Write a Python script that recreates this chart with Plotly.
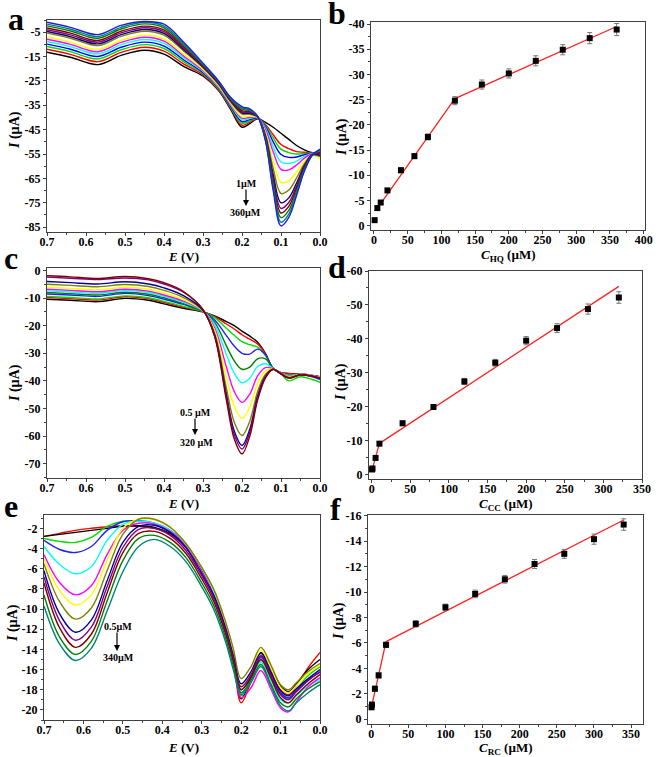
import plotly.graph_objects as go

W, H = 660, 757

# ---------------- DATA ----------------
# Panel a : DPV of HQ (E in V, I in uA)
a_E = [0.70, 0.64, 0.57, 0.51, 0.45, 0.40, 0.35, 0.30, 0.26, 0.23, 0.20, 0.18, 0.16, 0.14, 0.12, 0.10, 0.08, 0.06, 0.04, 0.02, 0.00]
a_black = [-13.2, -15.3, -18.3, -14.5, -12.4, -14.0, -19.0, -23.0, -29.0, -36.5, -44.0, -42.5, -40.5, -42.0, -44.0, -46.5, -49.0, -51.5, -53.3, -54.5, -55.0]
a_red = [-12.0, -14.1, -17.1, -13.3, -11.2, -12.8, -18.0, -22.5, -28.6, -36.0, -43.2, -41.9, -40.4, -42.9, -47.1, -51.1, -52.8, -54.0, -54.3, -54.6, -54.8]
a_green = [-10.9, -13.0, -16.0, -12.2, -10.1, -11.7, -17.1, -22.0, -28.2, -35.6, -42.4, -41.4, -40.3, -43.3, -48.4, -53.0, -54.4, -55.0, -54.8, -54.7, -54.7]
a_blue = [-9.9, -12.0, -15.0, -11.2, -9.1, -10.7, -16.3, -21.6, -27.9, -35.2, -41.7, -40.9, -40.2, -43.7, -50.0, -55.2, -56.4, -56.2, -55.3, -54.7, -54.8]
a_cyan = [-8.8, -10.9, -13.9, -10.1, -8.0, -9.6, -15.4, -21.1, -27.6, -34.7, -41.0, -40.3, -40.1, -44.3, -52.1, -58.3, -58.9, -57.9, -56.0, -54.8, -55.5]
a_magenta = [-7.9, -10.0, -13.0, -9.2, -7.1, -8.7, -14.7, -20.7, -27.3, -34.4, -40.3, -39.9, -40.0, -44.9, -54.1, -61.3, -61.5, -59.5, -56.7, -55.0, -56.0]
a_yellow = [-7.0, -9.1, -12.1, -8.3, -6.2, -7.8, -14.0, -20.3, -27.0, -34.0, -39.7, -39.5, -39.9, -46.0, -57.8, -66.6, -66.0, -62.4, -57.9, -55.5, -56.8]
a_dkyellow = [-5.4, -7.5, -10.5, -6.7, -4.6, -6.2, -12.7, -19.6, -26.4, -33.4, -38.6, -38.7, -39.8, -46.9, -60.9, -71.2, -69.8, -64.8, -59.0, -55.4, -56.0]
a_navy = [-4.7, -6.8, -9.8, -6.0, -3.9, -5.5, -12.1, -19.3, -26.2, -33.1, -38.1, -38.3, -39.7, -47.6, -63.5, -75.0, -73.0, -66.9, -59.8, -55.3, -55.5]
a_purple = [-4.0, -6.1, -9.1, -5.3, -3.2, -4.8, -11.6, -19.0, -26.0, -32.8, -37.7, -38.0, -39.7, -48.1, -65.1, -77.3, -74.9, -68.1, -60.3, -55.3, -54.8]
a_wine = [-3.3, -5.4, -8.4, -4.6, -2.5, -4.1, -11.0, -18.7, -25.7, -32.5, -37.2, -37.6, -39.6, -48.5, -66.4, -79.2, -76.5, -69.1, -60.8, -55.4, -54.2]
a_olive = [-2.4, -4.5, -7.5, -3.7, -1.6, -3.2, -10.3, -18.4, -25.4, -32.2, -36.6, -37.2, -39.6, -48.8, -67.7, -81.1, -78.1, -70.2, -61.2, -55.5, -53.7]
a_dkcyan = [-1.7, -3.8, -6.8, -3.0, -0.9, -2.5, -9.7, -18.1, -25.2, -31.9, -36.1, -36.9, -39.5, -49.2, -69.0, -83.0, -79.7, -71.2, -61.7, -55.5, -53.3]
a_royal = [-0.9, -3.0, -6.0, -2.2, -0.6, -1.7, -9.0, -17.7, -25.0, -31.6, -35.5, -36.5, -39.5, -49.5, -70.0, -84.5, -81.0, -72.0, -62.0, -55.5, -53.0]
a_series = [a_black, a_red, a_green, a_blue, a_cyan, a_magenta, a_yellow, a_dkyellow,
            a_navy, a_purple, a_wine, a_olive, a_dkcyan, a_royal]
a_colors = ["#000000", "#FF0000", "#00DD00", "#0000FF", "#00FFFF", "#FF00FF", "#FFFF00", "#808000",
            "#000080", "#800080", "#800000", "#008000", "#008080", "#2020E0"]

# Panel b : calibration HQ
b_conc = [1, 5, 10, 20, 40, 60, 80, 120, 160, 200, 240, 280, 320, 360]
b_curr = [-1.1, -3.5, -4.6, -7.0, -11.0, -13.8, -17.6, -24.8, -28.0, -30.2, -32.7, -34.9, -37.2, -38.9]
b_err = [0.3, 0.4, 0.4, 0.4, 0.5, 0.5, 0.6, 0.8, 0.9, 0.9, 1.0, 1.0, 1.1, 1.2]
b_fit = [(5, 120, -2.51, -0.1891), (120, 360, -18.05, -0.0596)]  # (x0, x1, intercept, slope)

# Panel c : DPV of CC
c_E = [0.70, 0.64, 0.57, 0.50, 0.44, 0.40, 0.35, 0.30, 0.27, 0.24, 0.22, 0.20, 0.18, 0.16, 0.14, 0.12, 0.10, 0.08, 0.05, 0.02, 0.00]
c_black = [-10.4, -10.8, -11.3, -10.1, -10.8, -12.1, -13.7, -15.0, -16.5, -18.5, -20.0, -22.0, -23.8, -26.0, -30.0, -35.5, -37.0, -37.3, -37.5, -38.0, -38.5]
c_red = [-9.8, -10.2, -10.7, -9.5, -10.2, -11.6, -13.3, -14.9, -16.7, -19.4, -21.2, -23.3, -24.9, -26.6, -30.3, -35.5, -37.0, -37.4, -37.5, -38.0, -38.5]
c_green = [-9.4, -9.8, -10.3, -9.2, -9.9, -11.2, -13.0, -14.9, -17.1, -20.9, -23.5, -25.8, -26.9, -27.8, -30.8, -35.5, -37.5, -40.0, -38.5, -39.5, -40.5]
c_blue = [-8.5, -8.9, -9.4, -8.3, -9.1, -10.4, -12.3, -14.8, -17.9, -23.6, -27.4, -30.0, -30.3, -28.5, -30.5, -35.6, -37.1, -38.5, -37.8, -38.5, -39.5]
c_dkgreen = [-8.0, -8.4, -8.9, -7.9, -8.6, -9.9, -12.0, -14.8, -18.8, -27.3, -32.7, -35.8, -35.0, -32.0, -32.0, -35.6, -37.2, -37.8, -37.6, -38.1, -38.7]
c_cyan = [-7.4, -7.8, -8.3, -7.3, -8.0, -9.4, -11.5, -14.7, -19.7, -30.5, -37.2, -40.7, -39.0, -34.8, -33.8, -35.6, -37.2, -38.0, -37.6, -38.1, -38.7]
c_magenta = [-6.8, -7.2, -7.7, -6.8, -7.5, -8.9, -11.1, -14.6, -20.9, -35.0, -43.8, -47.8, -44.8, -38.2, -35.2, -35.7, -37.3, -38.3, -37.7, -38.2, -38.8]
c_yellow = [-6.1, -6.5, -7.0, -6.1, -6.8, -8.2, -10.6, -14.6, -21.8, -38.7, -49.1, -53.6, -49.5, -40.9, -36.4, -35.7, -37.4, -38.5, -37.7, -38.2, -38.8]
c_dkyellow = [-5.0, -5.4, -5.9, -5.1, -5.8, -7.2, -9.8, -14.5, -22.9, -42.7, -54.9, -59.8, -54.6, -43.9, -37.7, -35.8, -37.4, -38.7, -37.8, -38.3, -38.9]
c_navy = [-4.0, -4.4, -4.9, -4.1, -4.9, -6.3, -9.1, -14.4, -23.5, -45.0, -58.1, -63.4, -57.5, -45.5, -38.4, -35.8, -37.5, -38.9, -37.8, -38.3, -39.0]
c_purple = [-2.4, -2.8, -3.3, -2.7, -3.4, -4.9, -7.9, -14.2, -23.7, -45.9, -59.4, -64.7, -58.6, -46.2, -38.6, -35.8, -37.5, -39.0, -37.8, -38.3, -39.0]
c_wine = [-1.9, -2.3, -2.9, -2.2, -3.0, -4.4, -7.6, -14.2, -24.0, -47.0, -61.0, -66.5, -60.0, -47.0, -39.0, -35.8, -37.5, -39.0, -37.8, -38.3, -39.0]
c_series = [c_black, c_red, c_green, c_blue, c_dkgreen, c_cyan, c_magenta, c_yellow,
            c_dkyellow, c_navy, c_purple, c_wine]
c_colors = ["#000000", "#FF0000", "#00DD00", "#2020FF", "#008000", "#00FFFF", "#FF00FF", "#FFFF00",
            "#808000", "#0000A0", "#800080", "#800000"]

# Panel d : calibration CC
d_conc = [0.5, 1, 5, 10, 40, 80, 120, 160, 200, 240, 280, 320]
d_curr = [-1.6, -1.9, -5.0, -9.2, -15.2, -20.0, -27.5, -33.0, -39.5, -43.2, -48.8, -52.2]
d_err = [0.5, 0.5, 0.6, 0.6, 0.7, 0.7, 0.9, 1.0, 1.2, 1.3, 1.5, 1.7]
d_fit = [(0.5, 10, -1.09, -0.821), (10, 320, -7.8, -0.149)]

# Panel e : DPV of RC
e_E = [0.70, 0.66, 0.62, 0.58, 0.54, 0.50, 0.46, 0.42, 0.38, 0.34, 0.30, 0.27, 0.24, 0.22, 0.20, 0.175, 0.15, 0.125, 0.10, 0.08, 0.06, 0.03, 0.00]
e_red = [-2.8, -2.5, -2.2, -2.0, -1.85, -1.75, -1.8, -2.0, -2.6, -3.9, -6.1, -8.4, -11.8, -15.0, -19.3, -17.2, -14.7, -16.2, -18.0, -18.5, -17.6, -15.8, -14.3]
e_black = [-2.8, -2.6, -2.4, -2.2, -2.0, -1.8, -1.75, -1.9, -2.5, -3.8, -6.1, -8.3, -11.7, -14.7, -18.9, -16.8, -14.3, -15.8, -17.6, -18.2, -17.4, -16.0, -15.0]
e_green = [-3.0, -3.3, -3.4, -2.9, -1.8, -1.3, -1.3, -1.6, -2.3, -3.7, -5.9, -8.2, -11.6, -14.6, -18.6, -17.0, -15.1, -16.6, -18.4, -18.9, -18.0, -16.6, -15.7]
e_blue = [-3.2, -4.1, -4.4, -3.8, -2.2, -1.35, -1.25, -1.5, -2.2, -3.6, -5.9, -8.1, -11.5, -14.4, -18.0, -16.7, -14.8, -16.4, -18.3, -18.8, -18.1, -17.0, -16.3]
e_cyan = [-3.8, -5.6, -6.5, -5.8, -3.2, -1.6, -1.3, -1.5, -2.2, -3.7, -6.0, -8.3, -11.7, -14.6, -18.3, -17.2, -15.3, -17.0, -19.0, -19.3, -18.6, -17.6, -17.0]
e_magenta = [-4.6, -7.4, -8.6, -7.7, -4.6, -2.2, -1.5, -1.6, -2.3, -3.8, -6.3, -8.6, -12.0, -15.0, -18.8, -17.8, -16.1, -17.9, -19.8, -20.2, -19.2, -17.7, -16.8]
e_yellow = [-5.0, -8.2, -9.6, -8.6, -5.2, -2.0, -1.1, -1.15, -1.9, -3.5, -5.9, -8.1, -11.4, -14.2, -17.5, -16.2, -14.1, -15.8, -17.8, -18.3, -17.6, -16.4, -15.6]
e_dkyellow = [-5.5, -9.3, -11.0, -9.9, -6.2, -2.6, -1.1, -1.1, -1.9, -3.5, -5.9, -8.0, -11.2, -13.9, -16.9, -15.7, -13.8, -15.5, -17.5, -18.0, -17.3, -16.2, -15.4]
e_navy = [-6.2, -10.5, -12.3, -11.1, -7.2, -3.4, -1.8, -1.7, -2.4, -3.9, -6.5, -8.6, -11.8, -14.6, -17.4, -16.2, -14.4, -16.2, -18.1, -18.6, -17.9, -16.9, -16.0]
e_purple = [-6.8, -11.2, -13.1, -11.8, -7.8, -3.9, -2.1, -2.0, -2.7, -4.2, -6.7, -8.9, -12.1, -14.9, -17.7, -16.5, -14.6, -16.5, -18.5, -19.0, -18.2, -17.1, -16.2]
e_wine = [-7.4, -11.9, -13.8, -12.5, -8.4, -4.4, -2.5, -2.3, -3.0, -4.5, -7.0, -9.2, -12.4, -15.2, -18.0, -16.8, -15.0, -16.8, -18.8, -19.3, -18.5, -17.4, -16.5]
e_olive = [-8.6, -12.8, -14.5, -13.2, -9.2, -5.2, -3.0, -2.7, -3.4, -4.9, -7.4, -9.6, -12.8, -15.6, -18.3, -17.1, -15.5, -17.4, -19.3, -19.7, -18.9, -17.9, -17.2]
e_dkcyan = [-9.7, -13.5, -15.1, -13.9, -10.2, -6.3, -3.8, -3.1, -3.8, -5.3, -7.8, -10.0, -13.2, -16.0, -18.5, -17.3, -15.7, -17.6, -19.6, -20.1, -19.3, -18.3, -17.5]
e_series = [e_red, e_black, e_green, e_blue, e_cyan, e_magenta, e_yellow, e_dkyellow,
            e_navy, e_purple, e_wine, e_olive, e_dkcyan]
e_colors = ["#FF0000", "#000000", "#00DD00", "#2020FF", "#00FFFF", "#FF00FF", "#FFFF00", "#808000",
            "#0000A0", "#800080", "#800000", "#008000", "#008080"]

# Panel f : calibration RC
f_conc = [0.5, 1, 5, 10, 20, 60, 100, 140, 180, 220, 260, 300, 340]
f_curr = [-0.95, -1.15, -2.4, -3.45, -5.85, -7.5, -8.8, -9.85, -11.0, -12.2, -13.0, -14.15, -15.3]
f_err = [0.2, 0.2, 0.2, 0.2, 0.2, 0.25, 0.25, 0.3, 0.3, 0.35, 0.35, 0.4, 0.45]
f_fit = [(0.5, 20, -0.87, -0.2615), (20, 340, -5.50, -0.02988)]

# tick labels
E_ticks = [0.7, 0.6, 0.5, 0.4, 0.3, 0.2, 0.1, 0.0]
E_labels = ["0.7", "0.6", "0.5", "0.4", "0.3", "0.2", "0.1", "0.0"]
a_yticks = [-5, -15, -25, -35, -45, -55, -65, -75, -85]
a_ylabels = ["-5", "-15", "-25", "-35", "-45", "-55", "-65", "-75", "-85"]
b_xticks = [0, 50, 100, 150, 200, 250, 300, 350, 400]
b_xlabels = ["0", "50", "100", "150", "200", "250", "300", "350", "400"]
b_yticks = [0, -5, -10, -15, -20, -25, -30, -35, -40]
b_ylabels = ["0", "-5", "-10", "-15", "-20", "-25", "-30", "-35", "-40"]
c_yticks = [0, -10, -20, -30, -40, -50, -60, -70]
c_ylabels = ["0", "-10", "-20", "-30", "-40", "-50", "-60", "-70"]
d_xticks = [0, 50, 100, 150, 200, 250, 300, 350]
d_xlabels = ["0", "50", "100", "150", "200", "250", "300", "350"]
d_yticks = [0, -10, -20, -30, -40, -50, -60]
d_ylabels = ["0", "-10", "-20", "-30", "-40", "-50", "-60"]
e_yticks = [-2, -4, -6, -8, -10, -12, -14, -16, -18, -20]
e_ylabels = ["-2", "-4", "-6", "-8", "-10", "-12", "-14", "-16", "-18", "-20"]
f_yticks = [0, -2, -4, -6, -8, -10, -12, -14, -16]
f_ylabels = ["0", "-2", "-4", "-6", "-8", "-10", "-12", "-14", "-16"]

# ---------------- FIGURE ----------------
SERIF = "Liberation Serif"
fig = go.Figure()


def fx(p):
    return p / W


def fy(p):
    return 1 - p / H


def add_curves(E, series, colors, xa, ya):
    for ys, col in zip(series, colors):
        fig.add_trace(go.Scatter(x=E, y=ys, mode="lines", xaxis=xa, yaxis=ya,
                                 line=dict(color=col, width=1.4, shape="spline", smoothing=1.0),
                                 showlegend=False, hoverinfo="skip"))


def add_calib(conc, curr, err, fits, xa, ya):
    for x0, x1, c0, k in fits:
        fig.add_trace(go.Scatter(x=[x0, x1], y=[c0 + k * x0, c0 + k * x1], mode="lines",
                                 xaxis=xa, yaxis=ya, line=dict(color="#FF2020", width=1.3),
                                 showlegend=False, hoverinfo="skip"))
    fig.add_trace(go.Scatter(x=conc, y=curr, mode="markers", xaxis=xa, yaxis=ya,
                             marker=dict(symbol="square", size=6, color="black"),
                             error_y=dict(type="data", array=err, visible=True,
                                          color="#777777", thickness=1, width=2.5),
                             showlegend=False))


add_curves(a_E, a_series, a_colors, "x", "y")
add_calib(b_conc, b_curr, b_err, b_fit, "x2", "y2")
add_curves(c_E, c_series, c_colors, "x3", "y3")
add_calib(d_conc, d_curr, d_err, d_fit, "x4", "y4")
add_curves(e_E, e_series, e_colors, "x5", "y5")
add_calib(f_conc, f_curr, f_err, f_fit, "x6", "y6")

tickfont = dict(family=SERIF, size=12, color="black", weight="bold")


def axis(dom, rng, tv, tt, minor_dtick, anchor, is_x):
    d = dict(domain=dom, range=rng, anchor=anchor, tickmode="array", tickvals=tv, ticktext=tt,
             showline=True, mirror=True, linecolor="#404040", linewidth=1,
             ticks="outside", ticklen=3, tickwidth=1, tickcolor="#404040",
             showgrid=False, zeroline=False, tickfont=tickfont, automargin=False,
             minor=dict(ticks="outside", ticklen=2, tickcolor="#404040", tickmode="linear",
                        tick0=0, dtick=minor_dtick, showgrid=False))
    if is_x:
        d["ticklabelstandoff"] = -4
    return d


lay = dict(width=W, height=H, margin=dict(l=0, r=0, t=0, b=0, pad=0, autoexpand=False),
           autosize=False, paper_bgcolor="white", plot_bgcolor="white", showlegend=False)

# panel a
lay["xaxis"] = axis([fx(47), fx(320)], [0.7, 0.0], E_ticks, E_labels, 0.05, "y", True)
lay["yaxis"] = axis([fy(232), fy(20)], [-87, 0], a_yticks, a_ylabels, 5, "x", False)
# panel b
lay["xaxis2"] = axis([fx(371), fx(645)], [-4.4, 402], b_xticks, b_xlabels, 25, "y2", True)
lay["yaxis2"] = axis([fy(230), fy(22)], [0.85, -40.4], b_yticks, b_ylabels, 2.5, "x2", False)
# panel c
lay["xaxis3"] = axis([fx(47), fx(320)], [0.7, 0.0], E_ticks, E_labels, 0.05, "y3", True)
lay["yaxis3"] = axis([fy(478), fy(268)], [-75.2, 0.9], c_yticks, c_ylabels, 5, "x3", False)
# panel d
lay["xaxis4"] = axis([fx(369), fx(642)], [-3.5, 350], d_xticks, d_xlabels, 25, "y4", True)
lay["yaxis4"] = axis([fy(479), fy(271)], [1.2, -60], d_yticks, d_ylabels, 5, "x4", False)
# panel e
lay["xaxis5"] = axis([fx(44), fx(320)], [0.7, 0.0], E_ticks, E_labels, 0.05, "y5", True)
lay["yaxis5"] = axis([fy(720), fy(515)], [-21.0, -0.68], e_yticks, e_ylabels, 1, "x5", False)
# panel f
lay["xaxis6"] = axis([fx(368), fx(643)], [-4.3, 366], d_xticks, d_xlabels, 25, "y6", True)
lay["yaxis6"] = axis([fy(724), fy(515)], [0.37, -16.05], f_yticks, f_ylabels, 1, "x6", False)

ann = []


def text(x, y, s, size, angle=0):
    ann.append(dict(x=fx(x), y=fy(y), xref="paper", yref="paper", text=s, showarrow=False,
                    textangle=angle, xanchor="center", yanchor="middle",
                    font=dict(family=SERIF, size=size, color="black", weight="bold")))


def arrow(x, y0, y1):
    ann.append(dict(x=fx(x), y=fy(y1), xref="paper", yref="paper", text="", showarrow=True,
                    ax=0, ay=-(y1 - y0), arrowhead=2, arrowsize=1, arrowwidth=1.2,
                    arrowcolor="black"))


# panel letters
text(16, 19, "a", 32)
text(337, 13, "b", 32)
text(11, 258, "c", 32)
text(337, 267, "d", 32)
text(11, 506, "e", 32)
text(335, 509, "f", 32)

# y titles
text(15, 130, "<i>I</i> (µA)", 14, -90)
text(342, 137, "<i>I</i> (µA)", 14, -90)
text(15, 383, "<i>I</i> (µA)", 14, -90)
text(341, 382, "<i>I</i> (µA)", 14, -90)
text(13, 623, "<i>I</i> (µA)", 14, -90)
text(339, 621, "<i>I</i> (µA)", 14, -90)

# x titles
text(183, 256, "<i>E</i> (V)", 13)
text(508, 255, "<i>C</i><sub>HQ</sub> (µM)", 13)
text(183, 503, "<i>E</i> (V)", 13)
text(505, 504, "<i>C</i><sub>CC</sub> (µM)", 13)
text(183, 747, "<i>E</i> (V)", 13)
text(505, 748, "<i>C</i><sub>RC</sub> (µM)", 13)

# concentration labels
text(246, 183, "1µM", 10)
arrow(246, 188, 206)
text(245, 213, "360µM", 10)
text(195, 412, "0.5 µM", 10)
arrow(195, 417, 435)
text(196, 442, "320 µM", 10)
text(118, 626, "0.5µM", 10)
arrow(117, 631, 651)
text(118, 657, "340µM", 10)

lay["annotations"] = ann
fig.update_layout(**lay)
fig.write_html("out.html", config={"displayModeBar": False},
               post_script="document.body.style.margin='0px';")
